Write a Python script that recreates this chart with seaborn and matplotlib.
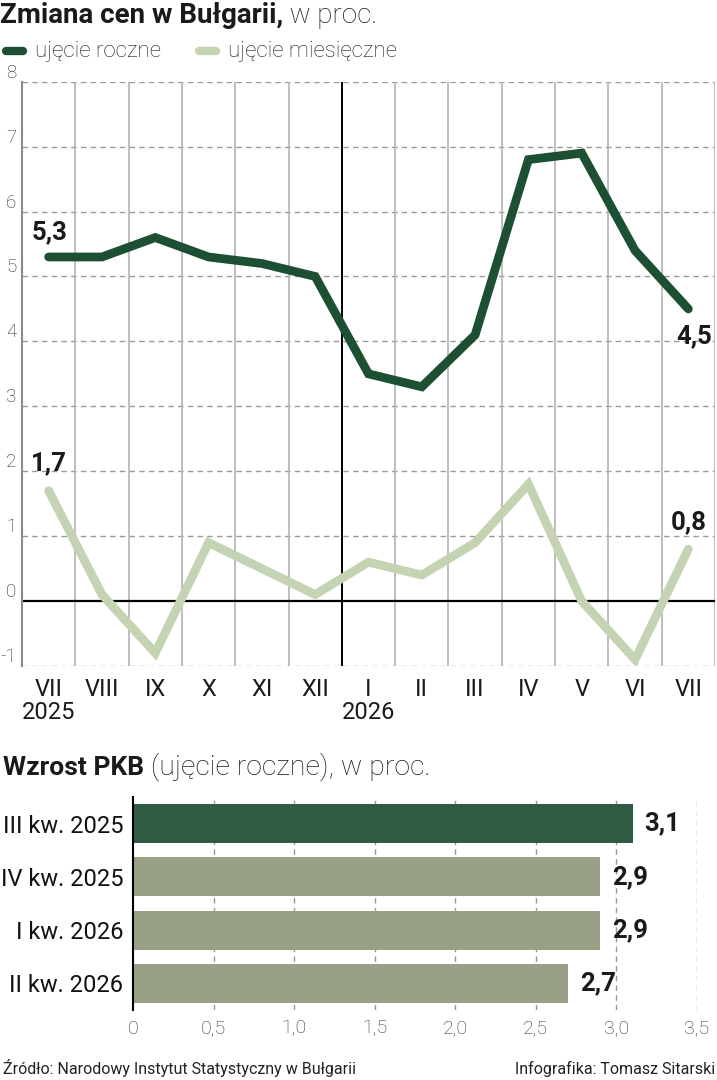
import matplotlib
matplotlib.use("Agg")
import matplotlib.pyplot as plt
from matplotlib.lines import Line2D
import numpy as np
import pandas as pd
import seaborn as sns

# dane - ceny
months = ["VII", "VIII", "IX", "X", "XI", "XII", "I", "II", "III", "IV", "V", "VI", "VII"]
years = {0: "2025", 6: "2026"}
annual = [5.3, 5.3, 5.6, 5.3, 5.2, 5.0, 3.5, 3.3, 4.1, 6.8, 6.9, 5.4, 4.5]
monthly = [1.7, 0.1, -0.8, 0.9, 0.5, 0.1, 0.6, 0.4, 0.9, 1.8, 0.0, -0.9, 0.8]
y_ticks = [-1, 0, 1, 2, 3, 4, 5, 6, 7, 8]

# dane - PKB
quarters = ["III kw. 2025", "IV kw. 2025", "I kw. 2026", "II kw. 2026"]
gdp = [3.1, 2.9, 2.9, 2.7]
gdp_ticks = [0, 0.5, 1.0, 1.5, 2.0, 2.5, 3.0, 3.5]

DARK = "#1d4f32"
LIGHT = "#c4d3b2"
BAR_DARK = "#2e5b44"
BAR_LIGHT = "#98a186"
TXT = "#1a1a1a"

W, H = 717, 1080


def fx(px):
    return px / W


def fy(py):
    return 1 - py / H


sns.set_theme(style="white")
plt.rcParams["font.family"] = ["Roboto", "DejaVu Sans"]

fig = plt.figure(figsize=(W / 100, H / 100), dpi=100)


def two_part(x, y, bold, regular, size, reg_size):
    t = fig.text(fx(x), fy(y), bold, fontsize=size, fontweight="bold",
                 va="baseline", ha="left", color=TXT)
    bb = t.get_window_extent(fig.canvas.get_renderer())
    fig.text(bb.x1 / fig.bbox.width, fy(y), regular, fontsize=reg_size,
             fontweight="light", va="baseline", ha="left", color=TXT)


# --- wykres liniowy ---
ax = fig.add_axes([fx(22), fy(666), fx(715) - fx(22), fy(81.7) - fy(666)])
df = pd.DataFrame({"pos": np.arange(len(months)), "roczne": annual, "miesieczne": monthly})

for v in y_ticks:
    if v == 0:
        ax.axhline(v, color="black", lw=1.6, zorder=2)
    else:
        ax.axhline(v, color="#9a9a9a", lw=1, ls=(0, (4, 3)), zorder=1)
for xv in np.arange(0.5, len(months), 1):
    if xv == 5.5:
        ax.axvline(xv, color="black", lw=1.4, zorder=2)
    else:
        ax.axvline(xv, color="#b3b3b3", lw=1.2, zorder=1)

sns.lineplot(data=df, x="pos", y="miesieczne", color=LIGHT, lw=6.3, ax=ax,
             zorder=3, solid_capstyle="round", solid_joinstyle="miter")
sns.lineplot(data=df, x="pos", y="roczne", color=DARK, lw=6.3, ax=ax,
             zorder=4, solid_capstyle="round", solid_joinstyle="miter")

ax.set_xlim(-0.5, len(months) - 0.5)
ax.set_ylim(-1, 8)
ax.set_xlabel("")
ax.set_ylabel("")
for s in ["top", "right", "bottom"]:
    ax.spines[s].set_visible(False)
ax.spines["left"].set_color("#8a8a8a")
ax.spines["left"].set_linewidth(1.5)

ax.set_xticks(range(len(months)))
ax.set_xticklabels([m + ("\n" + years[i] if i in years else "") for i, m in enumerate(months)],
                   va="top", linespacing=0.95)
ax.tick_params(axis="x", length=0, pad=9, labelsize=17, labelcolor=TXT)
ax.set_yticks(y_ticks)
ax.set_yticklabels([str(v) for v in y_ticks])
ax.tick_params(axis="y", length=0, pad=4, labelsize=13.5, labelcolor="#2a2a2a")
for lbl in ax.get_yticklabels():
    lbl.set_va("bottom")
    lbl.set_fontweight("light")

lab = dict(ha="center", va="center", fontsize=18.5, fontweight="bold",
           color=TXT, textcoords="offset points", zorder=5)
ax.annotate("5,3", xy=(0, annual[0]), xytext=(1, 18), **lab)
ax.annotate("4,5", xy=(12, annual[-1]), xytext=(4, -20), **lab)
ax.annotate("1,7", xy=(0, monthly[0]), xytext=(0, 20), **lab)
ax.annotate("0,8", xy=(12, monthly[-1]), xytext=(0, 19.5), **lab)

# tytul i legenda
two_part(0, 23, "Zmiana cen w Bułgarii,", " w proc.", 20, 20)
fig.add_artist(Line2D([fx(6), fx(23)], [fy(51)] * 2, lw=6, color=DARK,
                      solid_capstyle="round", transform=fig.transFigure))
fig.text(fx(35), fy(56.5), "ujęcie roczne", fontsize=16, fontweight="light",
         va="baseline", color=TXT)
fig.add_artist(Line2D([fx(199), fx(216)], [fy(51)] * 2, lw=6, color=LIGHT,
                      solid_capstyle="round", transform=fig.transFigure))
fig.text(fx(228), fy(56.5), "ujęcie miesięczne", fontsize=16, fontweight="light",
         va="baseline", color=TXT)

# --- wykres slupkowy ---
two_part(3, 775, "Wzrost PKB", " (ujęcie roczne), w proc.", 19, 20.5)

ax2 = fig.add_axes([fx(133), fy(1010), fx(697) - fx(133), fy(797) - fy(1010)])
bdf = pd.DataFrame({"kw": quarters, "pkb": gdp})
sns.barplot(data=bdf, x="pkb", y="kw", hue="kw",
            palette=[BAR_DARK, BAR_LIGHT, BAR_LIGHT, BAR_LIGHT],
            width=0.73, legend=False, ax=ax2, zorder=3, linewidth=0, saturation=1)
ax2.set_xlim(0, 3.5)
ax2.set_ylim(3.5, -0.5)
ax2.set_xlabel("")
ax2.set_ylabel("")
for v in gdp_ticks[1:]:
    ax2.axvline(v, color="#999999", lw=1, ls=(0, (4, 3)), zorder=1)
for s in ["top", "right", "bottom"]:
    ax2.spines[s].set_visible(False)
ax2.spines["left"].set_color("black")
ax2.spines["left"].set_linewidth(1.5)
ax2.spines["left"].set_zorder(4)

ax2.set_xticks(gdp_ticks)
ax2.set_xticklabels([("%g" % v if v == 0 else "%.1f" % v).replace(".", ",") for v in gdp_ticks])
ax2.tick_params(axis="x", length=0, pad=7, labelsize=14, labelcolor="#333333")
for lbl in ax2.get_xticklabels():
    lbl.set_fontweight("light")
ax2.set_yticks(range(len(quarters)))
ax2.set_yticklabels(quarters)
ax2.tick_params(axis="y", length=0, pad=7, labelsize=17, labelcolor="#111111")

for i, v in enumerate(gdp):
    ax2.text(v + 0.075, i, ("%.1f" % v).replace(".", ","), ha="left", va="center",
             fontsize=18.5, fontweight="bold", color=TXT)

# stopka
fig.text(fx(3), fy(1074), "Źródło: Narodowy Instytut Statystyczny w Bułgarii",
         fontsize=11.5, color="#222222", va="baseline")
fig.text(fx(715), fy(1074), "Infografika: Tomasz Sitarski", ha="right",
         fontsize=11.5, color="#222222", va="baseline")

fig.savefig("out.png", dpi=100)
